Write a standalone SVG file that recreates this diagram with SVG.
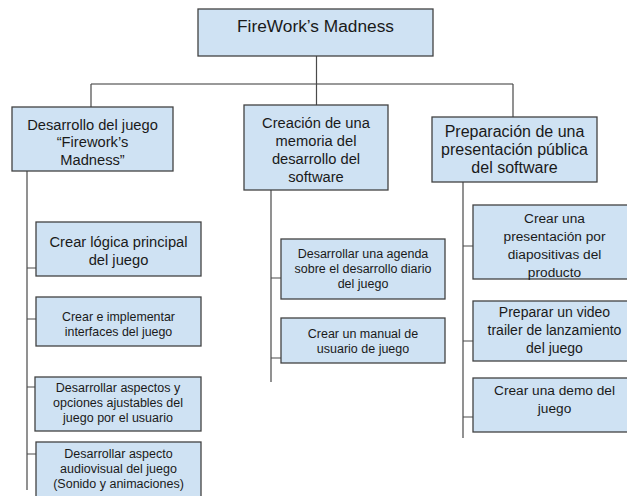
<svg xmlns="http://www.w3.org/2000/svg" width="627" height="496" viewBox="0 0 627 496">
<style>
.box{fill:#cfe2f3;stroke:#434343;stroke-width:1.3}
.t{font-family:"Liberation Sans",Arial,sans-serif;fill:#1a1a1a;text-anchor:middle}
.c{stroke:#4a4a4a;stroke-width:1.2;fill:none}
.h{stroke:#777;stroke-width:1.6;fill:none}
</style>
<rect width="627" height="496" fill="#fff"/>
<g id="connectors">
<path class="h" d="M91 84H513"/>
<path class="c" d="M316.5 56V105M91 84V107M513 84V117"/>
<path class="c" d="M27 171V490M27 268H36M27 319H36M27 387H35M27 454H36"/>
<path class="c" d="M271 190V382M271 278H281M271 358H281"/>
<path class="c" d="M463 182V438M463 246H473M463 341H473M463 417H473"/>
</g>
<g id="root">
<rect class="box" x="198" y="9" width="235" height="47"/>
<text class="t" x="315.5" y="32" font-size="17.3">FireWork’s Madness</text>
</g>
<g id="n1">
<rect class="box" x="12" y="107" width="161" height="64"/>
<text class="t" x="92.5" font-size="14.7"><tspan x="92.5" y="129.5">Desarrollo del juego</tspan><tspan x="92.5" y="147">“Firework’s</tspan><tspan x="92.5" y="164.5">Madness”</tspan></text>
</g>
<g id="n2">
<rect class="box" x="244" y="105" width="144" height="85"/>
<text class="t" font-size="14.7"><tspan x="316" y="128">Creación de una</tspan><tspan x="316" y="146">memoria del</tspan><tspan x="316" y="164">desarrollo del</tspan><tspan x="316" y="182">software</tspan></text>
</g>
<g id="n3">
<rect class="box" x="432" y="117" width="165" height="65"/>
<text class="t" font-size="16"><tspan x="514.5" y="137">Preparación de una</tspan><tspan x="514.5" y="155">presentación pública</tspan><tspan x="514.5" y="173">del software</tspan></text>
</g>
<g id="n1a">
<rect class="box" x="36" y="222" width="165" height="54"/>
<text class="t" font-size="14.7"><tspan x="118.5" y="247">Crear lógica principal</tspan><tspan x="118.5" y="265">del juego</tspan></text>
</g>
<g id="n1b">
<rect class="box" x="36" y="297" width="165" height="49"/>
<text class="t" font-size="12.4"><tspan x="118.5" y="321">Crear e implementar</tspan><tspan x="118.5" y="336">interfaces del juego</tspan></text>
</g>
<g id="n1c">
<rect class="box" x="35" y="377" width="166" height="54"/>
<text class="t" font-size="12.5"><tspan x="118" y="391.5">Desarrollar aspectos y</tspan><tspan x="118" y="406.5">opciones ajustables del</tspan><tspan x="118" y="421.5">juego por el usuario</tspan></text>
</g>
<g id="n1d">
<rect class="box" x="36" y="442" width="165" height="60"/>
<text class="t" font-size="12.5"><tspan x="118.5" y="457.5">Desarrollar aspecto</tspan><tspan x="118.5" y="472.5">audiovisual del juego</tspan><tspan x="118.5" y="487.5">(Sonido y animaciones)</tspan></text>
</g>
<g id="n2a">
<rect class="box" x="281" y="239" width="164" height="60"/>
<text class="t" font-size="12.5"><tspan x="363" y="258">Desarrollar una agenda</tspan><tspan x="363" y="273">sobre el desarrollo diario</tspan><tspan x="363" y="288">del juego</tspan></text>
</g>
<g id="n2b">
<rect class="box" x="281" y="318" width="164" height="45"/>
<text class="t" font-size="12.5"><tspan x="363" y="338">Crear un manual de</tspan><tspan x="363" y="353">usuario de juego</tspan></text>
</g>
<g id="n3a">
<rect class="box" x="473" y="205" width="163" height="74"/>
<text class="t" font-size="13.7"><tspan x="554.5" y="223">Crear una</tspan><tspan x="554.5" y="241">presentación por</tspan><tspan x="554.5" y="259">diapositivas del</tspan><tspan x="554.5" y="277">producto</tspan></text>
</g>
<g id="n3b">
<rect class="box" x="473" y="301" width="163" height="60"/>
<text class="t" font-size="14"><tspan x="554.5" y="317">Preparar un video</tspan><tspan x="554.5" y="335">trailer de lanzamiento</tspan><tspan x="554.5" y="353">del juego</tspan></text>
</g>
<g id="n3c">
<rect class="box" x="473" y="378" width="163" height="54"/>
<text class="t" font-size="13.7"><tspan x="554.5" y="395">Crear una demo del</tspan><tspan x="554.5" y="413">juego</tspan></text>
</g>
</svg>
